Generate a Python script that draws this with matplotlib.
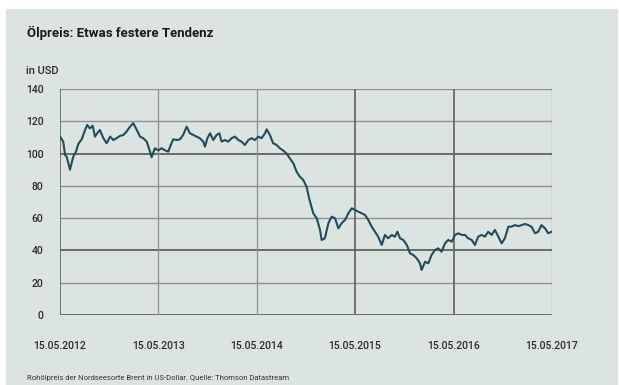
import matplotlib
matplotlib.use("Agg")
import matplotlib.pyplot as plt
from matplotlib.patches import Rectangle
import pandas as pd

# Brent (Datum, USD)
dates = [
    "2012-05-15", "2012-05-27", "2012-06-03", "2012-06-09", "2012-06-21", "2012-07-03",
    "2012-07-13", "2012-07-22", "2012-08-04", "2012-08-16", "2012-08-24", "2012-09-03",
    "2012-09-13", "2012-09-22", "2012-09-30", "2012-10-10", "2012-10-23", "2012-11-04",
    "2012-11-17", "2012-11-29", "2012-12-11", "2012-12-24", "2013-01-05", "2013-01-17",
    "2013-01-30", "2013-02-11", "2013-02-24", "2013-03-08", "2013-03-20", "2013-04-02",
    "2013-04-14", "2013-04-20", "2013-05-02", "2013-05-15", "2013-05-27", "2013-06-09",
    "2013-06-21", "2013-06-30", "2013-07-09", "2013-07-22", "2013-08-03", "2013-08-15",
    "2013-08-28", "2013-09-09", "2013-09-22", "2013-10-04", "2013-10-16", "2013-10-29",
    "2013-11-04", "2013-11-13", "2013-11-23", "2013-12-05", "2013-12-17", "2013-12-27",
    "2014-01-05", "2014-01-17", "2014-01-29", "2014-02-11", "2014-02-23", "2014-03-08",
    "2014-03-20", "2014-04-01", "2014-04-14", "2014-04-26", "2014-05-08", "2014-05-21",
    "2014-06-02", "2014-06-15", "2014-06-21", "2014-07-03", "2014-07-15", "2014-07-28",
    "2014-08-09", "2014-08-22", "2014-09-03", "2014-09-15", "2014-09-28", "2014-10-10",
    "2014-10-22", "2014-11-04", "2014-11-16", "2014-11-26", "2014-12-11", "2014-12-24",
    "2015-01-05", "2015-01-11", "2015-01-23", "2015-02-05", "2015-02-17", "2015-03-02",
    "2015-03-14", "2015-03-26", "2015-04-08", "2015-04-20", "2015-05-03", "2015-05-15",
    "2015-05-27", "2015-06-09", "2015-06-21", "2015-07-03", "2015-07-16", "2015-07-28",
    "2015-08-09", "2015-08-22", "2015-09-03", "2015-09-15", "2015-09-28", "2015-10-10",
    "2015-10-19", "2015-10-29", "2015-11-10", "2015-11-23", "2015-12-05", "2015-12-17",
    "2015-12-30", "2016-01-11", "2016-01-17", "2016-01-30", "2016-02-11", "2016-02-23",
    "2016-03-07", "2016-03-19", "2016-03-31", "2016-04-13", "2016-04-25", "2016-05-08",
    "2016-05-20", "2016-06-01", "2016-06-14", "2016-06-26", "2016-07-08", "2016-07-21",
    "2016-08-02", "2016-08-14", "2016-08-27", "2016-09-08", "2016-09-20", "2016-10-03",
    "2016-10-15", "2016-10-28", "2016-11-09", "2016-11-21", "2016-12-04", "2016-12-16",
    "2016-12-28", "2017-01-10", "2017-01-22", "2017-02-04", "2017-02-16", "2017-02-28",
    "2017-03-13", "2017-03-25", "2017-04-06", "2017-04-19", "2017-05-01", "2017-05-14",
]
prices = [
    110.5, 107.4, 99.0, 98.0, 90.0, 98.0,
    101.0, 106.0, 109.0, 114.6, 117.7, 115.6,
    117.3, 110.5, 112.5, 114.6, 109.5, 106.4,
    110.5, 108.4, 109.5, 111.0, 111.5, 113.6,
    116.7, 118.8, 114.6, 110.5, 109.5, 107.4,
    101.2, 97.7, 103.3, 102.0, 103.3, 102.0,
    101.2, 105.3, 108.8, 108.4, 108.8, 111.5,
    116.7, 112.6, 111.5, 110.5, 109.5, 107.4,
    104.3, 109.5, 112.6, 108.4, 111.5, 112.6,
    107.4, 108.4, 107.4, 109.5, 110.5, 108.4,
    107.4, 105.3, 108.4, 109.5, 108.4, 110.5,
    109.5, 112.6, 115.0, 111.5, 106.4, 105.3,
    103.3, 101.8, 100.0, 97.0, 94.0, 88.8,
    85.7, 83.6, 79.5, 72.0, 63.0, 59.9,
    52.7, 46.5, 47.5, 56.8, 60.9, 59.9,
    53.7, 56.8, 58.9, 63.0, 66.1, 65.0,
    64.0, 63.0, 62.0, 58.9, 54.7, 51.6,
    48.5, 43.4, 49.6, 47.5, 49.6, 48.5,
    51.6, 47.5, 46.5, 43.4, 38.2, 37.2,
    35.1, 32.0, 27.9, 33.0, 32.0, 37.2,
    40.3, 41.3, 39.2, 44.4, 46.5, 45.4,
    49.6, 50.6, 49.6, 49.6, 47.5, 46.5,
    43.4, 48.5, 49.6, 48.5, 51.6, 49.6,
    52.7, 48.5, 44.4, 47.5, 54.7, 54.7,
    55.7, 55.0, 55.7, 56.4, 55.7, 54.7,
    50.6, 51.6, 55.7, 53.7, 50.6, 51.6,
]

year_ticks = ["2012-05-15", "2013-05-15", "2014-05-15", "2015-05-15", "2016-05-15", "2017-05-15"]
year_labels = ["15.05.2012", "15.05.2013", "15.05.2014", "15.05.2015", "15.05.2016", "15.05.2017"]
y_ticks = [0, 20, 40, 60, 80, 100, 120, 140]

BG = "#dce4e1"
LINE = "#1f4d5b"
GRID = "#8c9290"
GRID_DARK = "#5c6260"
TEXT = "#2a2a2a"

plt.rcParams["font.family"] = ["Roboto", "DejaVu Sans"]

fig = plt.figure(figsize=(6.19, 3.85), dpi=100)
fig.patch.set_facecolor("white")
fig.patches.append(Rectangle((6 / 619, 0), 612 / 619, 376 / 385,
                             transform=fig.transFigure, facecolor=BG,
                             edgecolor="none", zorder=-5))

ax = fig.add_axes([60 / 619, 1 - 315 / 385, 492 / 619, 226 / 385])
ax.set_facecolor(BG)

x = pd.to_datetime(dates)
xt = pd.to_datetime(year_ticks)

# Gitter: einige Linien dunkler wie im Original
for v in y_ticks:
    dark = v in (0, 40, 100)
    ax.axhline(v, color=GRID_DARK if dark else GRID, lw=1.3 if dark else 1.0, zorder=1)
for i, d in enumerate(xt):
    dark = i in (0, 3, 4)
    ax.axvline(d, color=GRID_DARK if dark else GRID, lw=1.2 if dark else 0.9, zorder=1)

ax.plot(x, prices, color=LINE, lw=1.5, zorder=3)

ax.set_xlim(xt[0], xt[-1])
ax.set_ylim(0, 140)
for s in ax.spines.values():
    s.set_visible(False)
ax.set_yticks(y_ticks)
ax.set_yticklabels([str(v) for v in y_ticks], fontsize=7.5, color=TEXT, fontweight="medium")
ax.set_xticks(xt)
ax.set_xticklabels(year_labels, fontsize=7.5, color=TEXT, fontweight="medium")
ax.tick_params(length=0)
ax.tick_params(axis="y", pad=12)
ax.tick_params(axis="x", pad=19)

fig.text(27 / 619, 1 - 33 / 385, "Ölpreis: Etwas festere Tendenz", fontsize=9.5,
         fontweight="bold", color="#1a1a1a", ha="left", va="center")
fig.text(26 / 619, 1 - 71 / 385, "in USD", fontsize=8, color=TEXT,
         ha="left", va="center", fontweight="medium")
fig.text(27 / 619, 1 - 378 / 385,
         "Rohölpreis der Nordseesorte Brent in US-Dollar. Quelle: Thomson Datastream",
         fontsize=5.5, color="#333333", ha="left", va="center")

fig.savefig("out.png", dpi=100, facecolor="white")
